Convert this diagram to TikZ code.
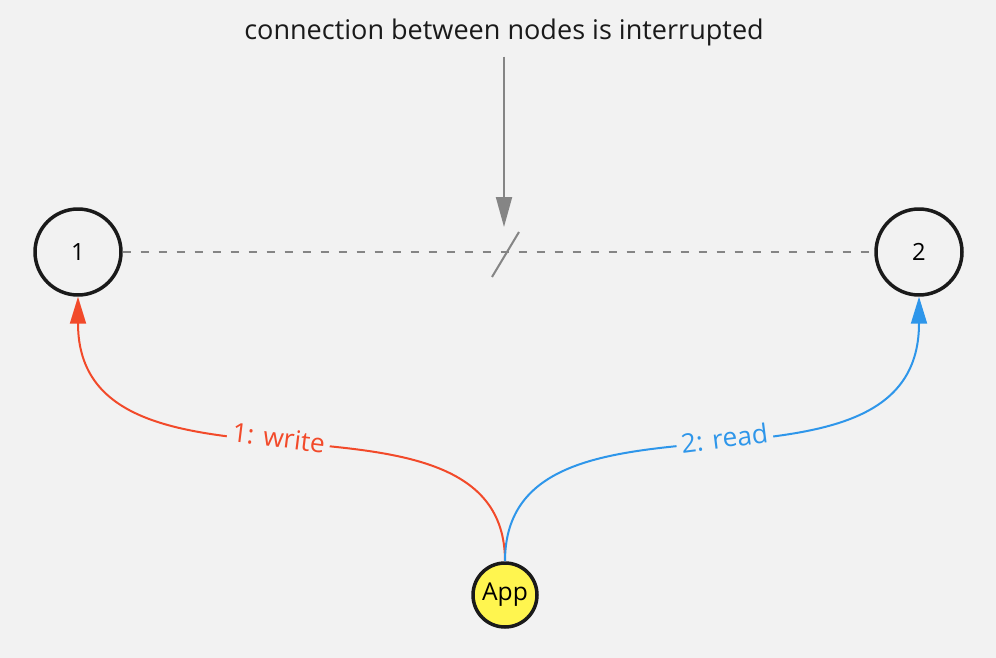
\documentclass[tikz,border=0pt]{standalone}
\usepackage{fontspec}
\setmainfont{Open Sans}
\usetikzlibrary{arrows.meta}
\definecolor{bg}{HTML}{F2F2F2}
\definecolor{wred}{HTML}{F24A2A}
\definecolor{rblue}{HTML}{2E96EA}
\definecolor{appyellow}{HTML}{FFF54F}
\definecolor{ink}{HTML}{1A1A1A}
\definecolor{note}{HTML}{858585}

\begin{document}
\begin{tikzpicture}[x = 0.02cm, y = -0.02cm,
    server/.style = {circle, draw = ink, line width = 0.07cm, minimum size = 1.72cm, inner sep = 0pt, font = \fontsize{13.5}{16}\selectfont},
    op/.style = {line width = 0.04cm, -{Triangle[length = 0.54cm, width = 0.32cm]}},
    oplabel/.style = {sloped, fill = bg, inner sep = 0.1cm, font = \fontsize{15}{18}\selectfont}]
    \fill[bg] (0,0) rectangle (996,658);
    \useasboundingbox (0,0) rectangle (996,658);
    % nodes
    \node[server] (n1) at (78,252) {1};
    \node[server] (n2) at (919,252) {2};
    \node[server, fill = appyellow, minimum size = 1.28cm, font = \fontsize{14}{16}\selectfont] (app) at (505,595) {App};
    \node[font = \fontsize{15.4}{18}\selectfont, text = ink] (msg) at (504,32) {connection between nodes is interrupted};
    \coordinate (brk) at (505,254);
    % broken link
    \draw[note, line width = 0.04cm, dash pattern = on 0.16cm off 0.2cm] (n1) -- (n2);
    \draw[note, line width = 0.04cm] (brk) ++(-13,23) -- ++(27,-45);
    \draw[note, line width = 0.04cm, shorten < = 0.1cm, shorten > = 0.54cm, -{Triangle[length = 0.6cm, width = 0.32cm]}] (msg.south) -- (msg.south |- brk);
    % operations
    \draw[op, wred] (app.north) .. controls +(0,-200) and +(0,228) .. (n1.south) node[oplabel, pos = 0.52, text = wred] {1: write};
    \draw[op, rblue] (app.north) .. controls +(0,-200) and +(0,228) .. (n2.south) node[oplabel, pos = 0.52, text = rblue] {2: read};
\end{tikzpicture}
\end{document}
